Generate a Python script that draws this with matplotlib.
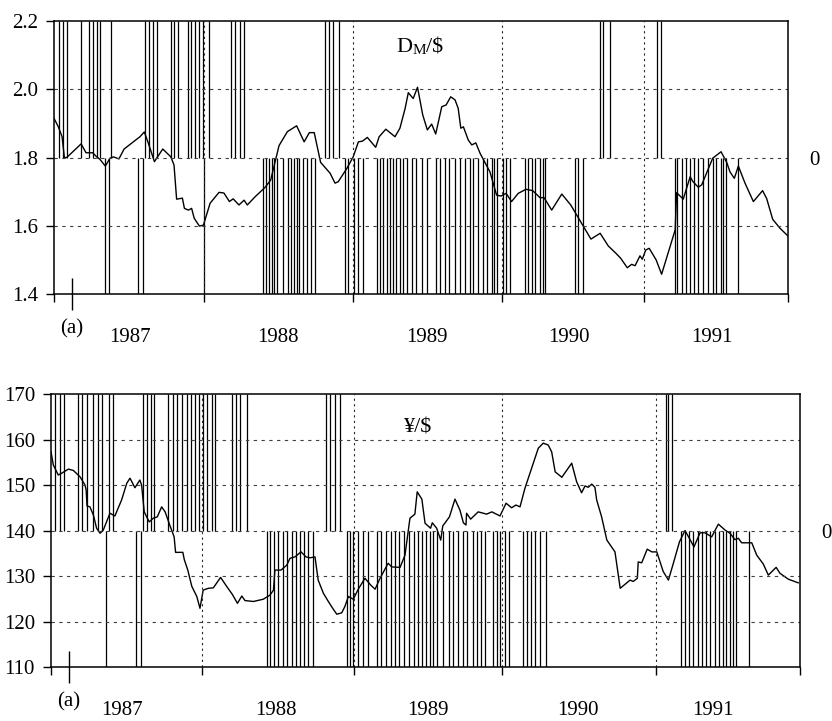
import matplotlib
matplotlib.use("Agg")
import matplotlib.pyplot as plt
import matplotlib.transforms as mtransforms

plt.rcParams['font.family'] = ['Liberation Serif', 'DejaVu Serif']

# ==========================================
# DATA (x in weeks from start of 1987)
# ==========================================
# --- DM/$ panel ---
dm_weeks = [0, 1.5, 2.8, 3.6, 4.4, 9.4, 11.1, 13.4, 14.8, 15.9, 17.8, 19.4, 20.6, 22.5,
            24.3, 27.5, 29.8, 31.3, 32.7, 34.8, 37.7, 40.5, 41.6, 42.5, 44.5, 45.2, 46.6,
            47.7, 48.6, 50.4, 51.8, 54.1, 57.2, 58.9, 60.8, 62.1, 64.1, 65.9, 67.0, 69.7,
            73.1, 75.1, 78.0, 80.9, 84.1, 86.7, 88.5, 90.2, 92.4, 95.7, 97.4, 98.5, 101.5,
            103.7, 105.5, 106.9, 108.6, 111.5, 112.7, 115.0, 118.2, 119.9, 121.7, 122.8,
            124.5, 126.0, 127.8, 129.4, 130.9, 132.3, 134.4, 135.9, 137.5, 139.0, 140.1,
            141.0, 141.9, 143.6, 144.8, 146.2, 147.7, 151.1, 153.4, 154.9, 156.7, 158.6,
            160.9, 163.6, 165.9, 168.5, 169.8, 172.5, 176.0, 179.1, 182.9, 186.1, 189.3,
            192.1, 194.8, 196.4, 198.7, 200.2, 201.4, 203.1, 203.9, 205.1, 206.3, 208.7,
            210.6, 215.3, 215.8, 218.1, 220.5, 221.4, 223.3, 224.5, 228.3, 231.2, 233.2,
            234.3, 235.8, 237.2, 239.5, 242.4, 245.6, 247.0, 249.1, 251.6, 254.4]
dm_rate = [1.915, 1.890, 1.861, 1.800, 1.800, 1.840, 1.814, 1.814, 1.802, 1.795, 1.775,
           1.798, 1.802, 1.796, 1.825, 1.846, 1.861, 1.875, 1.842, 1.788, 1.825, 1.802,
           1.778, 1.678, 1.681, 1.651, 1.646, 1.651, 1.622, 1.599, 1.602, 1.666, 1.698,
           1.696, 1.671, 1.679, 1.661, 1.675, 1.661, 1.685, 1.712, 1.734, 1.835, 1.876,
           1.893, 1.846, 1.873, 1.873, 1.786, 1.754, 1.725, 1.729, 1.768, 1.802, 1.846,
           1.848, 1.859, 1.830, 1.861, 1.883, 1.861, 1.886, 1.944, 1.990, 1.973, 2.006,
           1.925, 1.881, 1.898, 1.869, 1.949, 1.954, 1.978, 1.969, 1.944, 1.886, 1.890,
           1.851, 1.837, 1.843, 1.812, 1.758, 1.690, 1.687, 1.695, 1.671, 1.695, 1.707,
           1.703, 1.682, 1.683, 1.646, 1.693, 1.661, 1.607, 1.561, 1.578, 1.541, 1.519,
           1.505, 1.477, 1.487, 1.483, 1.512, 1.502, 1.529, 1.534, 1.500, 1.458, 1.588,
           1.697, 1.678, 1.744, 1.730, 1.713, 1.720, 1.798, 1.817, 1.785, 1.758, 1.739,
           1.775, 1.725, 1.671, 1.703, 1.680, 1.619, 1.593, 1.570]
dm_long = [1.6, 3.0, 4.5, 9.4, 12.2, 13.6, 14.8, 16.0, 19.7, 31.5, 32.9, 34.4, 35.8,
           40.7, 41.6, 42.9, 46.3, 47.5, 48.9, 50.2, 51.6, 53.7, 61.2, 62.8, 64.5, 66.0,
           93.9, 95.3, 96.8, 98.9, 189.3, 190.4, 192.7, 208.9, 210.4]
dm_short = [17.8, 19.0, 29.0, 30.7, 51.9, 72.5, 73.5, 74.4, 75.5, 76.4, 77.4, 79.3,
            81.2, 82.3, 83.3, 84.1, 85.0, 86.2, 87.6, 89.0, 90.5, 100.9, 102.0, 104.0,
            105.5, 107.2, 111.9, 113.0, 114.1, 115.3, 116.5, 117.4, 118.5, 119.9, 121.1,
            122.5, 124.0, 125.5, 127.5, 129.4, 132.3, 133.8, 135.5, 137.0, 139.0, 140.7,
            142.5, 144.2, 145.3, 147.1, 148.6, 150.0, 151.7, 152.6, 153.7, 155.7, 156.7,
            158.1, 163.3, 164.2, 165.6, 166.7, 168.5, 169.4, 170.2, 180.6, 181.7, 183.3,
            215.3, 216.1, 217.6, 219.1, 220.5, 221.9, 223.3, 224.8, 226.8, 228.3, 229.5,
            231.1, 232.0, 232.9, 237.2]
dm_ticks = [0, 52, 103.7, 155.3, 204.5, 254.4]
dm_year_pos = [26.3, 77.6, 129.3, 178.5, 228.1]

# --- Yen/$ panel ---
yen_weeks = [0, 0.8, 2.5, 3.7, 6.0, 7.7, 10.0, 11.7, 12.1, 12.4, 13.4, 14.6, 15.7, 16.9,
             18.0, 20.3, 22.0, 24.3, 26.1, 27.2, 28.9, 30.6, 31.2, 32.1, 33.8, 35.2, 36.6,
             38.1, 39.3, 41.0, 42.4, 42.9, 45.4, 45.9, 47.1, 48.5, 50.2, 51.3, 52.4, 54.2,
             55.9, 58.4, 60.5, 62.4, 64.2, 65.7, 66.8, 69.7, 73.1, 75.4, 76.6, 77.1, 79.2,
             81.2, 82.3, 84.0, 86.1, 87.8, 89.2, 90.9, 92.0, 93.8, 95.5, 97.0, 98.4, 100.1,
             101.2, 102.4, 104.1, 105.8, 108.1, 110.1, 111.6, 113.3, 116.1, 117.3, 120.2,
             121.9, 123.6, 125.3, 126.1, 127.7, 128.8, 130.7, 131.3, 132.8, 134.2, 134.9,
             137.2, 139.1, 140.8, 142.0, 142.9, 143.1, 144.5, 147.1, 150.0, 151.8, 154.6,
             156.7, 158.6, 160.1, 161.5, 163.2, 165.5, 167.8, 169.5, 171.2, 172.4, 173.6,
             175.9, 179.3, 181.0, 182.7, 183.9, 185.0, 186.2, 187.3, 187.9, 189.6, 191.4,
             194.2, 196.0, 199.4, 200.5, 201.9, 202.2, 203.4, 205.3, 206.9, 208.6, 210.8,
             212.6, 214.3, 216.4, 218.3, 219.8, 221.4, 223.5, 225.2, 227.5, 229.8, 232.1,
             233.8, 235.5, 236.7, 237.8, 241.3, 243.0, 245.3, 247.0, 249.7, 251.0, 253.9,
             257.3]
yen_rate = [157.3, 154.4, 152.2, 152.6, 153.5, 153.2, 151.8, 150.0, 148.9, 145.4, 145.2,
            143.4, 140.5, 139.4, 140.1, 143.8, 143.2, 146.7, 150.4, 151.5, 149.4, 151.1,
            150.0, 144.1, 141.9, 142.7, 143.0, 145.2, 144.1, 141.0, 138.6, 135.2, 135.2,
            133.6, 131.3, 127.7, 125.5, 122.9, 126.9, 127.3, 127.4, 129.7, 127.7, 126.0,
            124.0, 125.6, 124.6, 124.4, 124.9, 125.8, 126.9, 131.3, 131.3, 132.4, 133.9,
            134.2, 135.3, 134.2, 134.0, 134.2, 129.1, 126.2, 124.4, 122.9, 121.6, 121.9,
            123.3, 125.5, 124.9, 127.1, 129.5, 128.0, 127.1, 129.5, 132.8, 132.0, 131.9,
            134.6, 142.7, 143.6, 148.5, 146.9, 141.6, 140.5, 141.7, 140.5, 137.9, 141.0,
            143.0, 146.9, 144.5, 141.7, 141.2, 143.8, 142.5, 144.1, 143.6, 144.1, 143.2,
            146.0, 145.0, 145.6, 145.2, 149.3, 153.7, 158.1, 159.2, 158.8, 157.3, 152.9,
            151.7, 154.8, 150.7, 148.3, 149.8, 149.5, 150.2, 149.5, 146.7, 143.0, 137.9,
            135.3, 127.3, 129.1, 128.8, 129.5, 133.1, 132.9, 135.9, 135.3, 135.3, 131.0,
            129.1, 132.8, 137.5, 140.0, 138.3, 136.4, 139.5, 139.5, 138.6, 141.4, 140.1,
            139.4, 138.0, 138.3, 137.3, 137.3, 134.6, 132.6, 130.2, 131.9, 130.6, 129.3,
            128.5]
yen_long = [1.4, 3.1, 4.5, 9.2, 10.8, 12.5, 14.4, 16.1, 17.5, 20.1, 21.5, 31.6, 33.0,
            34.3, 35.6, 40.4, 42.1, 43.5, 45.0, 46.7, 48.1, 49.6, 51.1, 52.4, 53.8, 55.3,
            56.6, 62.4, 63.7, 65.1, 67.6, 94.7, 96.1, 97.8, 99.5, 211.7, 212.6, 213.7]
yen_short = [18.9, 29.3, 30.9, 74.3, 75.4, 76.8, 78.3, 80.0, 81.4, 82.9, 84.4, 85.7,
             87.1, 88.6, 90.1, 101.8, 103.0, 103.9, 105.8, 107.5, 109.1, 112.2, 113.5,
             115.4, 117.0, 118.5, 119.9, 121.6, 123.4, 125.0, 126.5, 127.7, 129.1, 130.5,
             131.6, 133.0, 135.1, 137.2, 138.5, 140.3, 141.8, 143.1, 145.2, 146.8, 148.0,
             149.6, 152.3, 153.5, 154.6, 156.4, 157.8, 162.4, 163.8, 165.2, 166.7, 168.4,
             170.5, 216.8, 218.3, 219.8, 221.2, 222.7, 224.1, 225.5, 226.9, 228.7, 230.1,
             231.3, 232.4, 233.8, 235.0, 235.9, 240.3]
yen_ticks = [0, 52, 104.3, 155.3, 208.3, 257.9]
yen_year_pos = [24.4, 77.5, 129.8, 181.6, 228.0]

years = ['1987', '1988', '1989', '1990', '1991']
panel_mark_pos = 6.2
FS = 15


def draw_panel(rect, weeks, rate, longs, shorts, ticks, year_pos, ylim, yticks, ylabels):
    ax = fig.add_axes(rect)
    ax2 = ax.twinx()
    ax.set_zorder(ax2.get_zorder() + 1)
    ax.patch.set_visible(False)

    # trading signal (+1 / -1) on the right scale
    ax2.vlines(longs, 0, 1, color='black', linewidth=0.9)
    ax2.vlines(shorts, -1, 0, color='black', linewidth=0.9)
    ax2.set_ylim(-1, 1)
    ax2.set_yticks([0])
    ax2.set_yticklabels(['0'], fontsize=FS)
    ax2.tick_params(axis='y', length=0, pad=15)

    ax.plot(weeks, rate, color='black', linewidth=1.0)
    ax.set_xlim(ticks[0], ticks[-1])
    ax.set_ylim(*ylim)
    ax.set_yticks(yticks)
    ax.set_yticklabels(ylabels, fontsize=FS)
    ax.set_xticks(ticks)
    ax.set_xticklabels([])
    ax.set_xticks([panel_mark_pos], minor=True)
    ax.tick_params(axis='both', which='major', direction='out', length=5.5, width=1, pad=6)
    ax.tick_params(axis='x', which='minor', direction='inout', length=23, width=1)

    for y in yticks[1:-1]:
        ax.axhline(y, color='0.25', linewidth=0.8, linestyle=(0, (3, 4)))
    for x in ticks[1:-1]:
        ax.axvline(x, color='0.15', linewidth=0.8, linestyle=(0, (2, 3)))

    for sp in ax.spines.values():
        sp.set_linewidth(1.1)
    for sp in ax2.spines.values():
        sp.set_visible(False)

    trans = mtransforms.blended_transform_factory(ax.transData, ax.transAxes)
    for xp, lab in zip(year_pos, years):
        ax.text(xp, -0.158, lab, transform=trans, ha='center', va='center', fontsize=FS)
    ax.text(panel_mark_pos, -0.128, '(a)', transform=trans, ha='center', va='center', fontsize=FS)
    return ax


fig = plt.figure(figsize=(8.32, 7.21), dpi=100)

ax_dm = draw_panel([0.0649, 0.5922, 0.8822, 0.3786], dm_weeks, dm_rate, dm_long, dm_short,
                   dm_ticks, dm_year_pos, (1.4, 2.2), [1.4, 1.6, 1.8, 2.0, 2.2],
                   ['1.4', '1.6', '1.8', '2.0', '2.2'])
ax_yen = draw_panel([0.0613, 0.0749, 0.9002, 0.3786], yen_weeks, yen_rate, yen_long, yen_short,
                    yen_ticks, yen_year_pos, (110, 170), [110, 120, 130, 140, 150, 160, 170],
                    ['110', '120', '130', '140', '150', '160', '170'])

# panel titles, "DM" with small-capital M
t_d = ax_dm.text(0.466, 0.886, 'D', transform=ax_dm.transAxes, fontsize=16,
                 ha='left', va='baseline')
t_m = ax_dm.annotate('M', xy=(1, 0), xycoords=t_d, fontsize=11, ha='left', va='bottom')
ax_dm.annotate('/$', xy=(1, 0), xycoords=t_m, fontsize=16, ha='left', va='bottom')
ax_yen.text(0.49, 0.875, '¥/$', transform=ax_yen.transAxes, fontsize=16,
            ha='center', va='center')

fig.savefig('out.png', dpi=100)
